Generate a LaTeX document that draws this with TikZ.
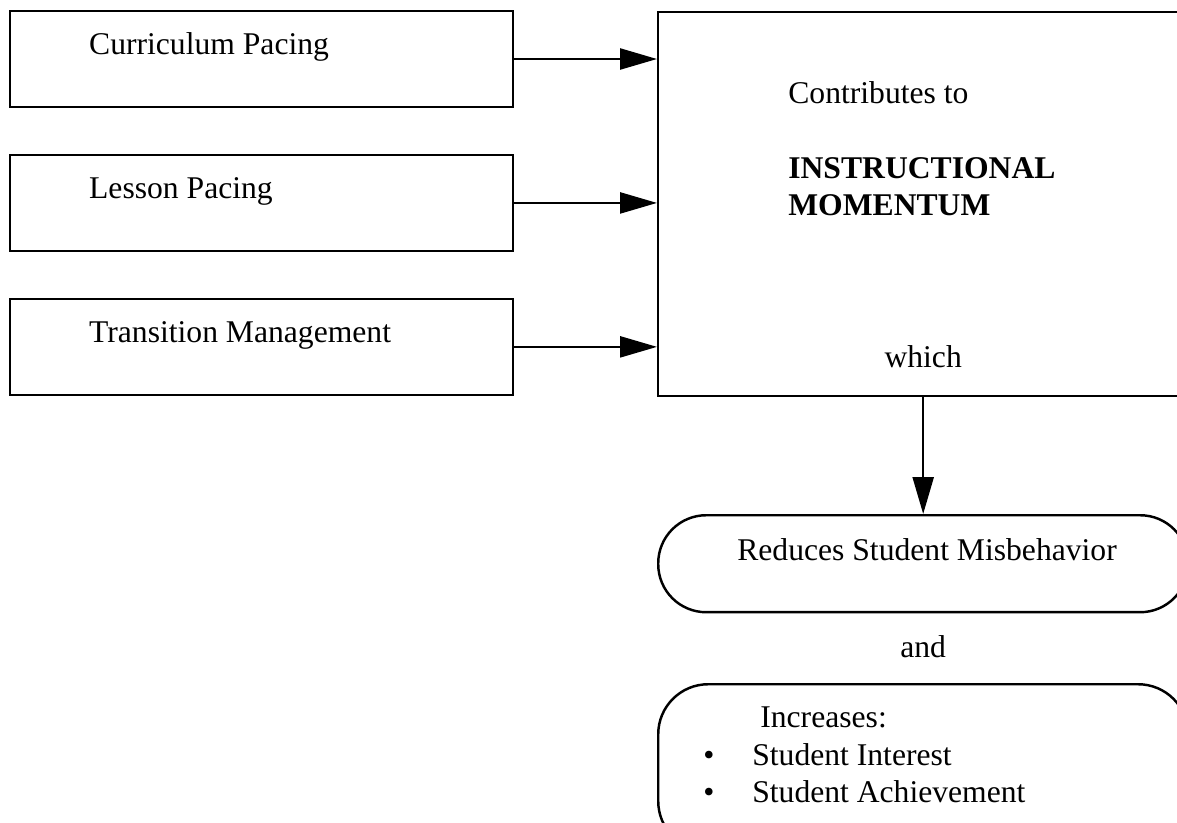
\documentclass[tikz,border=0pt]{standalone}
\usepackage{fontspec}
\setmainfont{Liberation Serif}
\usetikzlibrary{arrows.meta,positioning}

\tikzset{
	box/.style={draw, line width=1.4pt, inner sep=0pt},
	factor/.style={box, minimum width=10.06cm, minimum height=1.92cm},
	momentum/.style={box, minimum width=10.6cm, minimum height=7.68cm},
	result/.style={box, minimum width=10.6cm, rounded corners=0.96cm},
	txt/.style={inner sep=0pt, font=\fontsize{18}{21}\selectfont},
	arr/.style={line width=1.4pt, -{Triangle[length=0.74cm, width=0.42cm]}}
}

\begin{document}
\begin{tikzpicture}[x=0.02cm, y=-0.02cm]
	\useasboundingbox (0,0) rectangle (1177,822);
	\clip (0,0) rectangle (1177,822);

	\node [factor] (curr) at (261.5,59) {};
	\node [factor, below=0.91cm of curr] (lesson) {};
	\node [factor, below=0.91cm of lesson] (trans) {};
	\node [momentum, anchor=north west] (mom) at (657,11) {};
	\node [result, minimum height=1.94cm, anchor=north west] (red) at (657,514) {};
	\node [result, minimum height=3.34cm, rounded corners=1cm, anchor=north west] (inc) at (657,683) {};

	\node [txt, anchor=base west] (currtxt) at ([shift={(80,45)}]curr.north west) {Curriculum Pacing};
	\node [txt, anchor=base west] (lessontxt) at ([shift={(80,45)}]lesson.north west) {Lesson Pacing};
	\node [txt, anchor=base west] (transtxt) at ([shift={(80,45)}]trans.north west) {Transition Management};

	\node [txt, anchor=base west] (contrib) at ([shift={(131,92)}]mom.north west) {Contributes to};
	\node [txt, anchor=base west] (instr) at ([shift={(131,167)}]mom.north west) {\textbf{INSTRUCTIONAL}};
	\node [txt, anchor=base west] (moment) at ([shift={(131,204)}]mom.north west) {\textbf{MOMENTUM}};
	\node [txt, anchor=base] (which) at ([shift={(0,-30)}]mom.south) {which};

	\node [txt, anchor=base west] (redtxt) at ([shift={(80,46)}]red.north west) {Reduces Student Misbehavior};
	\node [txt, anchor=base] (and) at ([shift={(0,44)}]red.south) {and};
	\node [txt, anchor=base west] (inctxt) at ([shift={(103,44)}]inc.north west) {Increases:};
	\node [txt, anchor=base west] (interest) at ([shift={(46,82)}]inc.north west) {\makebox[0.98cm][l]{\textbullet}Student Interest};
	\node [txt, anchor=base west] (achieve) at ([shift={(46,119)}]inc.north west) {\makebox[0.98cm][l]{\textbullet}Student Achievement};

	\draw [arr] (curr.east) -- (curr.east -| mom.west);
	\draw [arr] (lesson.east) -- (lesson.east -| mom.west);
	\draw [arr] (trans.east) -- (trans.east -| mom.west);
	\draw [arr] (mom.south) -- (red.north);

\end{tikzpicture}
\end{document}
